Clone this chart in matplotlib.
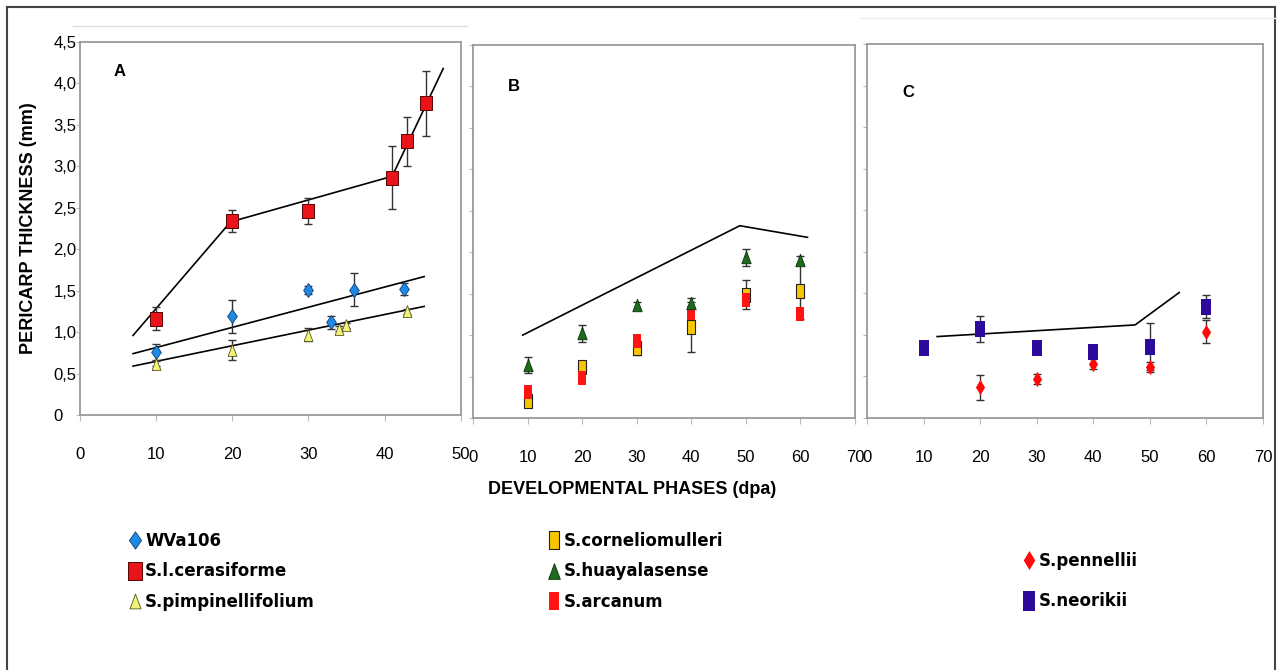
import matplotlib.pyplot as plt
from matplotlib.lines import Line2D

plt.rcParams['font.family'] = ['Liberation Sans', 'DejaVu Sans']

# panel A
wva_x = [10, 20, 30, 33, 36, 42.5]
wva_y = [0.76, 1.19, 1.51, 1.12, 1.51, 1.52]
wva_err = [0.10, 0.20, 0.05, 0.08, 0.20, 0.07]
cer_x = [10, 20, 30, 41, 43, 45.5]
cer_y = [1.16, 2.34, 2.46, 2.86, 3.30, 3.76]
cer_err = [0.14, 0.13, 0.16, 0.38, 0.29, 0.39]
pim_x = [10, 20, 30, 34, 35, 43]
pim_y = [0.62, 0.78, 0.97, 1.04, 1.08, 1.25]
pim_err = [0.03, 0.12, 0.08, 0.03, 0.03, 0.03]
cer_fit_x = [7, 19.8, 41, 47.7]
cer_fit_y = [0.96, 2.33, 2.88, 4.18]
wva_fit_x = [7, 45.2]
wva_fit_y = [0.74, 1.67]
pim_fit_x = [7, 45.2]
pim_fit_y = [0.59, 1.31]

# panel B
dpa = [10, 20, 30, 40, 50, 60]
hua_y = [0.64, 1.02, 1.36, 1.39, 1.94, 1.91]
hua_err = [0.10, 0.10, 0.04, 0.06, 0.10, 0.05]
cor_y = [0.21, 0.62, 0.84, 1.10, 1.49, 1.53]
cor_err = [0.04, 0.05, 0.08, 0.30, 0.18, 0.33]
arc_y = [0.31, 0.48, 0.93, 1.27, 1.42, 1.26]
b_fit_x = [9.1, 48.9, 61.3]
b_fit_y = [1.00, 2.32, 2.18]

# panel C
neo_x = [10, 20, 30, 40, 50, 60]
neo_y = [0.84, 1.07, 0.84, 0.80, 0.86, 1.34]
neo_err = [0.02, 0.16, 0.03, 0.03, 0.28, 0.14]
pen_x = [20, 30, 40, 50, 60]
pen_y = [0.37, 0.47, 0.65, 0.61, 1.04]
pen_err = [0.15, 0.06, 0.06, 0.06, 0.14]
c_fit_x = [12.4, 47.4, 55.2]
c_fit_y = [0.98, 1.12, 1.51]

y_ticks = [0, 0.5, 1, 1.5, 2, 2.5, 3, 3.5, 4, 4.5]
y_ticklabels = ['0', '0,5', '1,0', '1,5', '2,0', '2,5', '3,0', '3,5', '4,0', '4,5']

# marker shapes
tall_sq = [(-0.55, -1), (0.55, -1), (0.55, 1), (-0.55, 1), (-0.55, -1)]
sq = [(-0.85, -1), (0.85, -1), (0.85, 1), (-0.85, 1), (-0.85, -1)]
diam = [(0, -1), (0.7, 0), (0, 1), (-0.7, 0), (0, -1)]
thin_diam = [(0, -1), (0.6, 0), (0, 1), (-0.6, 0), (0, -1)]
tri = [(-0.75, -1), (0.75, -1), (0, 1), (-0.75, -1)]

fig = plt.figure(figsize=(12.77, 6.70), dpi=100)

axA = fig.add_axes([0.0624, 0.3806, 0.2984, 0.5567])
axB = fig.add_axes([0.3704, 0.3761, 0.2991, 0.5567])
axC = fig.add_axes([0.6789, 0.3761, 0.3101, 0.5582])

ekw = dict(fmt='none', ecolor='#333333', elinewidth=1, capsize=3, capthick=1)

# A
axA.plot(cer_fit_x, cer_fit_y, color='black', lw=1.2)
axA.plot(wva_fit_x, wva_fit_y, color='black', lw=1.2)
axA.plot(pim_fit_x, pim_fit_y, color='black', lw=1.2)
axA.errorbar(cer_x, cer_y, yerr=cer_err, **ekw)
axA.errorbar(wva_x, wva_y, yerr=wva_err, **ekw)
axA.errorbar(pim_x, pim_y, yerr=pim_err, **ekw)
h_wva, = axA.plot(wva_x, wva_y, ls='none', marker=diam, ms=10, mfc='#1e8ae6', mec='#0d3f73', mew=0.6, label='WVa106')
h_cer, = axA.plot(cer_x, cer_y, ls='none', marker=sq, ms=10, mfc='#e8141a', mec='#5a0000', mew=0.7, label='S.l.cerasiforme')
h_pim, = axA.plot(pim_x, pim_y, ls='none', marker=tri, ms=8.5, mfc='#f2f27a', mec='#555522', mew=0.6, label='S.pimpinellifolium')

# B
axB.plot(b_fit_x, b_fit_y, color='black', lw=1.2)
axB.errorbar(dpa, cor_y, yerr=cor_err, **ekw)
axB.errorbar(dpa, hua_y, yerr=hua_err, **ekw)
h_cor, = axB.plot(dpa, cor_y, ls='none', marker=tall_sq, ms=10, mfc='#f7c600', mec='#222222', mew=0.8, label='S.corneliomulleri')
h_arc, = axB.plot(dpa, arc_y, ls='none', marker=tall_sq, ms=10.5, mfc='#ff1414', mec='#ff1414', mew=0, label='S.arcanum')
h_hua, = axB.plot(dpa, hua_y, ls='none', marker=tri, ms=9, mfc='#1d6b1d', mec='#0a300a', mew=0.6, label='S.huayalasense')

# C
axC.plot(c_fit_x, c_fit_y, color='black', lw=1.2)
axC.errorbar(neo_x, neo_y, yerr=neo_err, **ekw)
axC.errorbar(pen_x, pen_y, yerr=pen_err, **ekw)
h_pen, = axC.plot(pen_x, pen_y, ls='none', marker=thin_diam, ms=11, mfc='#ff0a0a', mec='#ff0a0a', mew=0, label='S.pennellii')
h_neo, = axC.plot(neo_x, neo_y, ls='none', marker=tall_sq, ms=12, mfc='#2c0a9c', mec='#2c0a9c', mew=0, label='S.neorikii')

for ax, xmax in ((axA, 50), (axB, 70), (axC, 70)):
    ax.set_xlim(0, xmax)
    ax.set_ylim(0, 4.5)
    ax.set_xticks(range(0, xmax + 1, 10))
    ax.set_yticks(y_ticks)
    for s in ax.spines.values():
        s.set_color('#9a9a9a')
        s.set_linewidth(1.3)
    ax.tick_params(axis='x', direction='out', length=4, color='#bbbbbb', pad=19, labelsize=12)
    ax.tick_params(axis='y', direction='out', length=3, color='#bbbbbb', labelsize=12)

axA.set_yticklabels(y_ticklabels)
axA.tick_params(axis='y', pad=16)
for t in axA.get_yticklabels():
    t.set_horizontalalignment('left')
axB.set_yticklabels([])
axC.set_yticklabels([])

axA.set_ylabel('PERICARP THICKNESS (mm)', fontsize=13, fontweight='bold', labelpad=2)
axA.yaxis.set_label_coords(-0.111, 0.5)

axA.text(0.09, 0.92, 'A', transform=axA.transAxes, fontsize=12, fontweight='bold', va='center')
axB.text(0.09, 0.89, 'B', transform=axB.transAxes, fontsize=12, fontweight='bold', va='center')
axC.text(0.09, 0.87, 'C', transform=axC.transAxes, fontsize=12, fontweight='bold', va='center')

fig.text(632 / 1277, 1 - 490 / 670, 'DEVELOPMENTAL PHASES (dpa)', ha='center', va='center',
         fontsize=13, fontweight='bold')

# legends
leg_font = dict(family='DejaVu Sans', weight='bold', size=12)
lkw = dict(loc='upper left', frameon=False, borderpad=0, borderaxespad=0, markerscale=1.25,
           handlelength=0.6, handletextpad=0.3, prop=leg_font, numpoints=1)
fig.legend(handles=[h_wva, h_cer, h_pim], bbox_to_anchor=(130 / 1277, 1 - 532 / 670), labelspacing=0.75, **lkw)
fig.legend(handles=[h_cor, h_hua, h_arc], bbox_to_anchor=(549 / 1277, 1 - 532 / 670), labelspacing=0.75, **lkw)
fig.legend(handles=[h_pen, h_neo], bbox_to_anchor=(1024 / 1277, 1 - 552 / 670), labelspacing=1.35, **lkw)

# outer frame and faint lines
fr = dict(color='#444444', lw=1.5, transform=fig.transFigure)
fig.add_artist(Line2D([7 / 1277, 1275 / 1277], [1 - 7 / 670, 1 - 7 / 670], **fr))
fig.add_artist(Line2D([7 / 1277, 7 / 1277], [0, 1 - 7 / 670], **fr))
fig.add_artist(Line2D([1275 / 1277, 1275 / 1277], [0, 1 - 7 / 670], **fr))
fig.add_artist(Line2D([73 / 1277, 467 / 1277], [1 - 26 / 670, 1 - 26 / 670], color='#dddddd', lw=1, transform=fig.transFigure))
fig.add_artist(Line2D([860 / 1277, 1275 / 1277], [1 - 18 / 670, 1 - 18 / 670], color='#eeeeee', lw=1, transform=fig.transFigure))

fig.savefig('out.png', dpi=100)
